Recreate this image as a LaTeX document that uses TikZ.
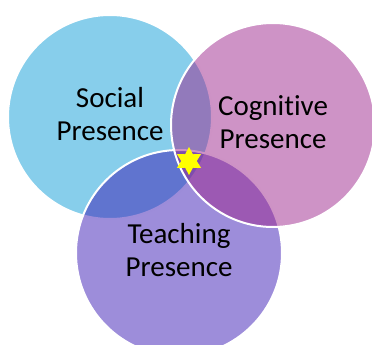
\documentclass[tikz,border=0pt]{standalone}
\usepackage{fontspec}
\setmainfont{Carlito}[Ligatures={NoCommon}]
\usepackage{tikz}
\usetikzlibrary{shapes}
\definecolor{socblue}{RGB}{135,206,235}
\definecolor{teapurple}{RGB}{59,27,181}
\definecolor{cogpink}{RGB}{157,39,141}
\definecolor{sparkyellow}{RGB}{255,255,0}
\tikzset{
	ring/.style     = {circle, draw=white, line width=2pt, inner sep=0pt},
	ringtext/.style = {font=\fontsize{29}{33}\selectfont, align=center, yshift=3pt}
}

\begin{document}
\begin{tikzpicture}[x=1pt,y=-1pt]
	\clip (0,0) rectangle (372,345);
	\node[ring, fill=socblue, minimum size=204pt] (soc) at (110,117) {};
	\node[ring, fill=teapurple, fill opacity=0.5, minimum size=206pt] (tea) at (179,253) {};
	\node[ring, fill=cogpink, fill opacity=0.5, minimum size=204pt] (cog) at (273,125) {};
	\node[ringtext] (soctext) at (soc.center) {Social\\Presence};
	\node[ringtext] (cogtext) at (cog.center) {Cognitive\\Presence};
	\node[ringtext] (teatext) at (tea.center) {Teaching\\Presence};
	\node[star, star points=6, star point ratio=1.8, fill=sparkyellow,
	      minimum size=28pt, inner sep=0pt] (spark) at (189,161) {};
\end{tikzpicture}
\end{document}
